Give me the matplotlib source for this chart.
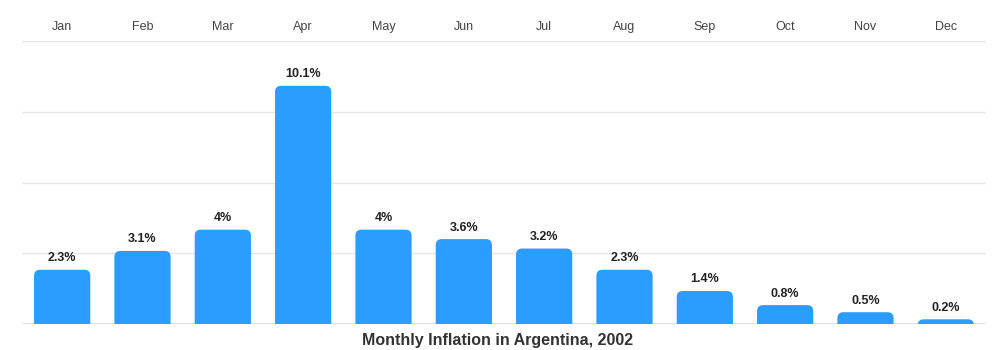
import matplotlib.pyplot as plt
from matplotlib.patches import FancyBboxPatch

plt.rcParams['font.family'] = ['Liberation Sans', 'DejaVu Sans']

months = ['Jan', 'Feb', 'Mar', 'Apr', 'May', 'Jun', 'Jul', 'Aug', 'Sep', 'Oct', 'Nov', 'Dec']
inflation = [2.3, 3.1, 4.0, 10.1, 4.0, 3.6, 3.2, 2.3, 1.4, 0.8, 0.5, 0.2]
labels = ['2.3%', '3.1%', '4%', '10.1%', '4%', '3.6%', '3.2%', '2.3%', '1.4%', '0.8%', '0.5%', '0.2%']

W, H = 996, 350
fig = plt.figure(figsize=(W / 100, H / 100), dpi=100)
ax = fig.add_axes([22 / W, 26 / H, 964 / W, 283 / H])

ax.set_xlim(-0.5, 11.5)
ax.set_ylim(0, 12)
ax.set_yticks([3, 6, 9, 12])
ax.yaxis.grid(True, color='#e6e6e6', linewidth=1)
ax.set_axisbelow(True)
for s in ax.spines.values():
    s.set_visible(False)
ax.axhline(0, color='#dddddd', linewidth=2, zorder=1)
ax.tick_params(left=False, labelleft=False, bottom=False, labelbottom=False,
               top=False, labeltop=True, pad=5.5, length=0)
ax.set_xticks(range(len(months)))
ax.set_xticklabels(months, fontsize=9, color='#444444')

# bars with rounded tops (bottom corners hidden below the baseline)
bar_w = 0.7
x_per_px = 12 / 964
y_per_px = 12 / 283
r = 6 * x_per_px
for i, v in enumerate(inflation):
    patch = FancyBboxPatch((i - bar_w / 2, -0.5), bar_w, v + 0.5,
                           boxstyle=f'round,pad=0,rounding_size={r}',
                           mutation_aspect=y_per_px / x_per_px,
                           facecolor='#2a9dfe', edgecolor='none', zorder=2)
    patch.set_clip_on(True)
    ax.add_patch(patch)
    ax.annotate(labels[i], (i, v), xytext=(0, 4), textcoords='offset points',
                ha='center', va='bottom', fontsize=9, fontweight='bold', color='#222222')

fig.text(0.5, 9 / H, 'Monthly Inflation in Argentina, 2002', ha='center', va='center',
         fontsize=11.5, fontweight='bold', color='#333333')

fig.savefig('out.png', dpi=100)
